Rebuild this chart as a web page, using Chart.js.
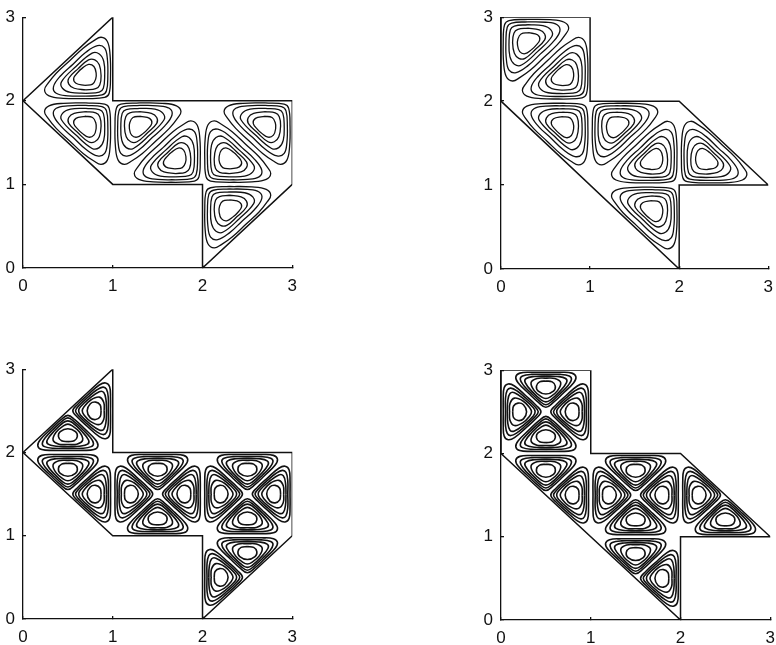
<!DOCTYPE html>
<html>
<head>
<meta charset="utf-8">
<style>
  html, body { margin: 0; padding: 0; background: #fff; }
  body { width: 776px; height: 645px; position: relative; overflow: hidden; }
  canvas { position: absolute; display: block; }
</style>
<script src="https://cdn.jsdelivr.net/npm/chart.js@4"></script>
</head>
<body>
<canvas id="c0"></canvas>
<canvas id="c1"></canvas>
<canvas id="c2"></canvas>
<canvas id="c3"></canvas>
<script>
const tickLabels = [0, 1, 2, 3];

// region outlines
const outlineLeft = [[0, 2], [1, 3], [1, 2], [3, 2], [3, 1], [2, 0], [2, 1], [1, 1], [0, 2]];
const outlineRight = [[0, 2], [0, 3], [1, 3], [1, 2], [2, 2], [3, 1], [2, 1], [2, 0], [0, 2]];

// contours of one triangle cell: distance from the right-angle corner along each leg
const triangleRings = [
  [[.31, .185], [.225, .20], [.19, .26], [.185, .33], [.21, .41], [.27, .435], [.345, .385], [.385, .345], [.435, .27], [.41, .21], [.31, .185]],
  [[.30, .13], [.19, .145], [.145, .19], [.13, .30], [.15, .43], [.20, .49], [.27, .49], [.385, .385], [.49, .27], [.49, .20], [.43, .15], [.30, .13]],
  [[.30, .09], [.15, .105], [.105, .15], [.09, .30], [.10, .47], [.15, .56], [.23, .57], [.41, .41], [.57, .23], [.56, .15], [.47, .10], [.30, .09]],
  [[.30, .055], [.12, .07], [.07, .12], [.055, .30], [.06, .50], [.09, .63], [.17, .66], [.30, .58], [.44, .44], [.58, .30], [.66, .17], [.63, .09], [.50, .06], [.30, .055]],
  [[.30, .025], [.09, .04], [.04, .09], [.025, .30], [.03, .55], [.06, .71], [.13, .76], [.21, .72], [.33, .63], [.48, .48], [.63, .33], [.72, .21], [.76, .13], [.71, .06], [.55, .03], [.30, .025]]
];

// contours of one small lobe: position along the leg, distance from the leg
const lobeRings = [
  [[0, .13], [.07, .14], [.105, .19], [.085, .25], [0, .285], [-.085, .25], [-.105, .19], [-.07, .14], [0, .13]],
  [[0, .095], [.10, .10], [.165, .15], [.13, .245], [.05, .32], [0, .34], [-.05, .32], [-.13, .245], [-.165, .15], [-.10, .10], [0, .095]],
  [[0, .07], [.13, .075], [.22, .10], [.23, .15], [.15, .26], [.05, .36], [0, .38], [-.05, .36], [-.15, .26], [-.23, .15], [-.22, .10], [-.13, .075], [0, .07]],
  [[0, .05], [.16, .05], [.26, .07], [.285, .11], [.25, .18], [.17, .27], [.07, .37], [0, .415], [-.07, .37], [-.17, .27], [-.25, .18], [-.285, .11], [-.26, .07], [-.16, .05], [0, .05]],
  [[0, .025], [.16, .025], [.29, .035], [.335, .08], [.31, .15], [.19, .28], [.08, .39], [0, .445], [-.08, .39], [-.19, .28], [-.31, .15], [-.335, .08], [-.29, .035], [-.16, .025], [0, .025]]
];

// triangle cells: corner x, corner y, x direction, y direction
const cellsLeft = [[1, 2, -1, 1], [1, 2, -1, -1], [1, 2, 1, -1], [2, 1, -1, 1], [2, 1, 1, 1], [3, 2, -1, -1], [2, 1, 1, -1]];
const cellsRight = [[0, 3, 1, -1], [1, 2, -1, 1], [1, 2, -1, -1], [1, 2, 1, -1], [2, 1, -1, 1], [2, 1, -1, -1], [2, 1, 1, 1]];

// lobes: leg point x, leg point y, leg axis, direction away from the leg
const lobesLeft = [
  [1, 2.5, 'y', -1], [.5, 2, 'x', 1], [.5, 2, 'x', -1], [1, 1.5, 'y', -1],
  [1, 1.5, 'y', 1], [1.5, 2, 'x', -1], [2, 1.5, 'y', -1], [1.5, 1, 'x', 1],
  [2, 1.5, 'y', 1], [2.5, 2, 'x', -1], [3, 1.5, 'y', -1], [2.5, 1, 'x', 1],
  [2.5, 1, 'x', -1], [2, .5, 'y', 1]
];
const lobesRight = [
  [.5, 3, 'x', -1], [0, 2.5, 'y', 1], [1, 2.5, 'y', -1], [.5, 2, 'x', 1],
  [.5, 2, 'x', -1], [1, 1.5, 'y', -1], [1, 1.5, 'y', 1], [1.5, 2, 'x', -1],
  [2, 1.5, 'y', -1], [1.5, 1, 'x', 1], [1.5, 1, 'x', -1], [2, .5, 'y', -1],
  [2, 1.5, 'y', 1], [2.5, 1, 'x', 1]
];

function lineSet(points, width, tension) {
  return {
    data: points.map(p => ({ x: p[0], y: p[1] })),
    showLine: true,
    borderColor: '#111',
    borderWidth: width,
    pointRadius: 0,
    tension: tension,
    fill: false
  };
}

function cellSets(cells) {
  const sets = [];
  cells.forEach(function (cell) {
    triangleRings.forEach(function (ring) {
      sets.push(lineSet(ring.map(p => [cell[0] + cell[2] * p[0], cell[1] + cell[3] * p[1]]), 1.3, 0.4));
    });
  });
  return sets;
}

function lobeSets(lobes) {
  const sets = [];
  lobes.forEach(function (lobe) {
    lobeRings.forEach(function (ring) {
      const pts = ring.map(p => lobe[2] === 'x'
        ? [lobe[0] + p[0], lobe[1] + lobe[3] * p[1]]
        : [lobe[0] + lobe[3] * p[1], lobe[1] + p[0]]);
      sets.push(lineSet(pts, 1.6, 0.4));
    });
  });
  return sets;
}

const panels = [
  { left: 3, top: -4, w: 269, h: 251, outline: outlineLeft, sets: cellSets(cellsLeft) },
  { left: 481, top: -4, w: 267, h: 252, outline: outlineRight, sets: cellSets(cellsRight) },
  { left: 3, top: 348, w: 269, h: 250, outline: outlineLeft, sets: lobeSets(lobesLeft) },
  { left: 481, top: 349, w: 269, h: 250, outline: outlineRight, sets: lobeSets(lobesRight) }
];

function axisOptions(fitKey, fitSize, padding) {
  return {
    type: 'linear',
    min: 0,
    max: 3,
    afterFit: function (scale) { scale[fitKey] = fitSize; },
    afterBuildTicks: function (scale) { scale.ticks = tickLabels.map(v => ({ value: v })); },
    border: { display: true, color: '#111', width: 1.3 },
    grid: { drawOnChartArea: false, drawTicks: true, tickLength: -3, color: '#111', lineWidth: 1.3 },
    ticks: { color: '#111', padding: padding, maxRotation: 0, font: { family: '"Liberation Sans"', size: 17 } }
  };
}

panels.forEach(function (panel, i) {
  const canvas = document.getElementById('c' + i);
  canvas.width = 20 + panel.w + 16;
  canvas.height = 21 + panel.h + 32;
  canvas.style.left = panel.left + 'px';
  canvas.style.top = panel.top + 'px';
  new Chart(canvas, {
    type: 'scatter',
    data: { datasets: [lineSet(panel.outline, 1.5, 0)].concat(panel.sets) },
    options: {
      responsive: false,
      animation: false,
      plugins: { legend: { display: false }, tooltip: { enabled: false } },
      scales: {
        x: axisOptions('height', 32, 11),
        y: axisOptions('width', 20, 11)
      }
    }
  });
});
</script>
</body>
</html>
